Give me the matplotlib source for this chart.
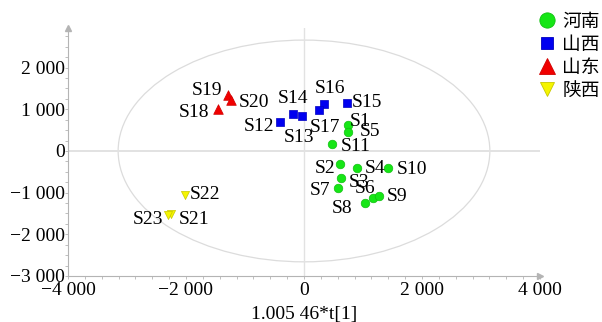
import matplotlib
matplotlib.use("Agg")
import matplotlib.pyplot as plt
from matplotlib.patches import Ellipse
from matplotlib.lines import Line2D
from matplotlib.ticker import FixedLocator, MultipleLocator, FuncFormatter

# sample scores (t[1] scaled, t[2])
names = ["S1", "S2", "S3", "S4", "S5", "S6", "S7", "S8", "S9", "S10", "S11",
         "S12", "S13", "S14", "S15", "S16", "S17",
         "S18", "S19", "S20",
         "S21", "S22", "S23"]
t1 = [751, 610, 627, 903, 751, 1164, 581, 1034, 1276, 1419, 480,
      -407, -39, -181, 724, 344, 254,
      -1453, -1283, -1237,
      -2254, -2009, -2305]
t2 = [624, -319, -655, -415, 463, -1135, -895, -1255, -1080, -415, 168,
      703, 840, 881, 1159, 1121, 984,
      1001, 1344, 1224,
      -1512, -1056, -1548]
groups = ["河南"] * 11 + ["山西"] * 6 + ["山东"] * 3 + ["陕西"] * 3
group_order = ["河南", "山西", "山东", "陕西"]

x_ticks = [-4000, -2000, 0, 2000, 4000]
y_ticks = [-3000, -2000, -1000, 0, 1000, 2000]
ell_w, ell_h = 3150, 2660  # semi axes of the confidence ellipse

# label offsets in pixels (dx, dy), text centred
label_off = {
    "S1": (12, 3), "S2": (-15, -4), "S3": (18, -4), "S4": (18, 0),
    "S5": (22, 0), "S6": (-8, 10), "S7": (-18, -2), "S8": (-23, -5),
    "S9": (18, -1), "S10": (24, -1), "S11": (23, -3), "S12": (-21, -5),
    "S13": (-3, -22), "S14": (0, 16), "S15": (20, 0), "S16": (6, 16),
    "S17": (6, -18), "S18": (-24, -3), "S19": (-21, 4), "S20": (23, -3),
    "S21": (23, -6), "S22": (20, 0), "S23": (-20, -4),
}

style = {
    "河南": dict(marker="o", fc="#16e616", ec="#10c010", s=38, lms=11),
    "山西": dict(marker="s", fc="#0000f0", ec="#0000c0", s=30, lms=8.5),
    "山东": dict(marker="^", fc="#f00000", ec="#d00000", s=48, lms=11),
    "陕西": dict(marker="v", fc="#f5f500", ec="#c8c800", s=34, lms=10),
}

serif = "Liberation Serif"
gray = "#b4b4b4"

fig = plt.figure(figsize=(6.02, 3.22), dpi=100)
ax = fig.add_axes([68 / 602, 46 / 322, 472 / 602, 248 / 322])

ax.set_xlim(-4000, 4000)
ax.set_ylim(-3000, 2950)

ax.add_patch(Ellipse((0, 0), 2 * ell_w, 2 * ell_h, fill=False,
                     ec="#dcdcdc", lw=0.9, zorder=1))
ax.axhline(0, color="#e2e2e2", lw=1.4, zorder=1)
ax.axvline(0, color="#e2e2e2", lw=1.0, zorder=1)

for g in group_order:
    st = style[g]
    xs = [x for x, gg in zip(t1, groups) if gg == g]
    ys = [y for y, gg in zip(t2, groups) if gg == g]
    ax.scatter(xs, ys, marker=st["marker"], s=st["s"], c=st["fc"],
               edgecolors=st["ec"], linewidths=0.5, zorder=3)

for n, x, y in zip(names, t1, t2):
    dx, dy = label_off[n]
    ax.annotate(n, (x, y), xytext=(dx, dy), textcoords="offset pixels",
                ha="center", va="center", fontsize=14, family=serif, zorder=4)

# axes look: only left/bottom, light gray with arrow heads
for side in ["top", "right"]:
    ax.spines[side].set_visible(False)
for side in ["left", "bottom"]:
    ax.spines[side].set_color(gray)
    ax.spines[side].set_linewidth(0.8)
ax.plot(1, 0, ">", color=gray, ms=4, transform=ax.transAxes, clip_on=False)
ax.plot(0, 1, "^", color=gray, ms=4, transform=ax.transAxes, clip_on=False)

fmt = FuncFormatter(lambda v, p: ("\u2212" if v < 0 else "") +
                    f"{abs(int(round(v))):,}".replace(",", " "))
ax.xaxis.set_major_locator(FixedLocator(x_ticks))
ax.yaxis.set_major_locator(FixedLocator(y_ticks))
ax.xaxis.set_minor_locator(MultipleLocator(2000 / 7))
ax.yaxis.set_minor_locator(MultipleLocator(1000 / 4))
ax.xaxis.set_major_formatter(fmt)
ax.yaxis.set_major_formatter(fmt)
ax.tick_params(which="both", color=gray, width=0.6)
ax.tick_params(which="major", length=2.5)
ax.tick_params(which="minor", length=2)
ax.tick_params(axis="x", pad=2)
ax.tick_params(axis="y", pad=0)
for lab in ax.get_xticklabels() + ax.get_yticklabels():
    lab.set_fontfamily(serif)
    lab.set_fontsize(14)

ax.set_xlabel("1.005 46*t[1]", fontsize=14, family=serif, labelpad=5)

handles = [Line2D([], [], ls="none", marker=style[g]["marker"],
                  markersize=style[g]["lms"], markerfacecolor=style[g]["fc"],
                  markeredgecolor=style[g]["ec"], markeredgewidth=0.6)
           for g in group_order]
fig.legend(handles, group_order, loc="upper left",
           bbox_to_anchor=(538 / 602, 1 - 11 / 322), frameon=False,
           prop={"family": "Noto Sans CJK SC", "size": 13.5},
           handlelength=1.0, handletextpad=0.3, labelspacing=0.1,
           borderpad=0, borderaxespad=0)

fig.savefig("out.png", dpi=100)
